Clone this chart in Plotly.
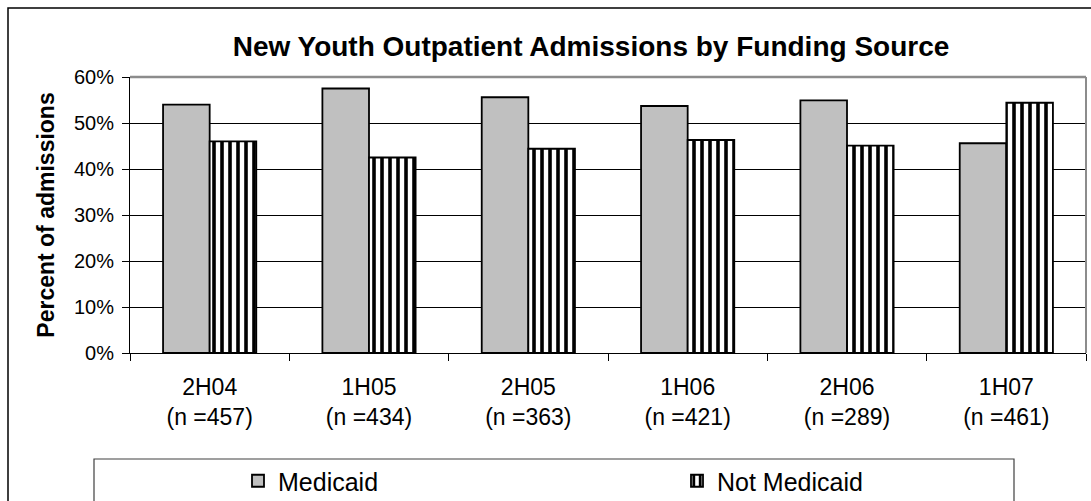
import plotly.graph_objects as go

# Half-year periods and the number of new admissions in each
periods = ["2H04", "1H05", "2H05", "1H06", "2H06", "1H07"]
sample_sizes = [457, 434, 363, 421, 289, 461]

# Share of admissions by funding source
medicaid = [0.540, 0.575, 0.556, 0.537, 0.549, 0.456]
not_medicaid = [0.460, 0.425, 0.444, 0.463, 0.451, 0.544]

y_ticks = [0, 0.1, 0.2, 0.3, 0.4, 0.5, 0.6]

labels = [f"{p}<br>(n ={n})" for p, n in zip(periods, sample_sizes)]

W, H = 1091, 501
M_L, M_R, M_T, M_B = 130, 5, 77, 148
PW, PH = W - M_L - M_R, H - M_T - M_B


def px_x(x):
    return (x - M_L) / PW


def px_y(y):
    return (H - M_B - y) / PH


FONT = "Liberation Sans, Arial, sans-serif"

fig = go.Figure()
fig.add_trace(go.Bar(
    x=labels, y=medicaid, name="Medicaid", legend="legend",
    marker=dict(color="#C0C0C0", line=dict(color="black", width=1.8)),
))
fig.add_trace(go.Bar(
    x=labels, y=not_medicaid, name="Not Medicaid", legend="legend2",
    marker=dict(
        color="white",
        line=dict(color="black", width=1.8),
        pattern=dict(shape="|", size=8, solidity=0.45,
                     fgcolor="black", bgcolor="white", fillmode="replace"),
    ),
))

legend_style = dict(
    orientation="h", xanchor="left", y=px_y(481), yanchor="middle",
    font=dict(size=25, family=FONT, color="black"),
    bgcolor="rgba(0,0,0,0)", borderwidth=0,
)

fig.update_layout(
    width=W, height=H,
    margin=dict(l=M_L, r=M_R, t=M_T, b=M_B, autoexpand=False),
    paper_bgcolor="white", plot_bgcolor="white",
    barmode="group", bargap=0.415, bargroupgap=0,
    font=dict(family=FONT, color="black"),
    title=dict(
        text="<b>New Youth Outpatient Admissions by Funding Source</b>",
        font=dict(size=28, family=FONT, color="black"),
        x=px_x(591), xref="paper", xanchor="center",
        y=1 - 46 / H, yref="container", yanchor="middle",
    ),
    showlegend=True,
    legend=dict(x=px_x(238), **legend_style),
    legend2=dict(x=px_x(677), **legend_style),
    xaxis=dict(
        type="category", showline=True, linecolor="black", linewidth=1,
        ticks="outside", tickson="boundaries", ticklen=7, tickcolor="black",
        ticklabelstandoff=13,
        tickfont=dict(size=23, family=FONT, color="black"),
        showgrid=False, fixedrange=True,
    ),
    yaxis=dict(
        range=[0, 0.6], tickvals=y_ticks, tickformat=".0%",
        showline=True, linecolor="black", linewidth=1,
        ticks="outside", ticklen=7, tickcolor="black",
        ticklabelstandoff=4,
        tickfont=dict(size=20, family=FONT, color="black"),
        showgrid=True, gridcolor="black", gridwidth=1,
        zeroline=False, fixedrange=True,
        title=dict(text="<b>Percent of admissions</b>",
                   font=dict(size=23, family=FONT, color="black"),
                   standoff=12),
    ),
    shapes=[
        # plot-area frame (top and right)
        dict(type="line", xref="paper", yref="paper", x0=0, x1=1, y0=1, y1=1,
             line=dict(color="#8C8C8C", width=2.5), layer="above"),
        dict(type="line", xref="paper", yref="paper", x0=1, x1=1, y0=0, y1=1,
             line=dict(color="#8C8C8C", width=2), layer="above"),
        # legend box
        dict(type="rect", xref="paper", yref="paper",
             x0=px_x(94), x1=px_x(1014), y0=px_y(520), y1=px_y(459),
             line=dict(color="#404040", width=1.2), fillcolor="rgba(0,0,0,0)",
             layer="above"),
        # outer chart border
        dict(type="rect", xref="paper", yref="paper",
             x0=px_x(8), x1=px_x(1120), y0=px_y(530), y1=px_y(8),
             line=dict(color="black", width=1.5), fillcolor="rgba(0,0,0,0)",
             layer="above"),
    ],
)

fig.write_html("out.html")
